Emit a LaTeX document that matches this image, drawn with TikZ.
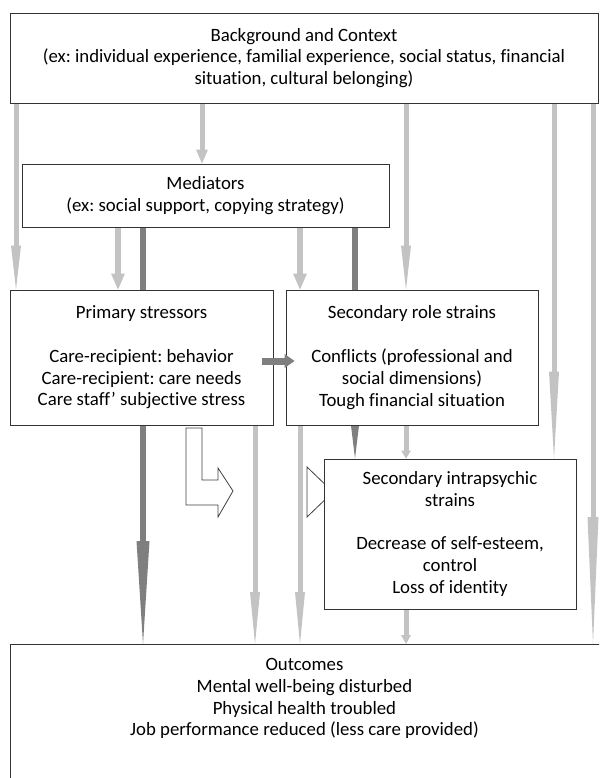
\documentclass[tikz,border=0pt]{standalone}
\usepackage{fontspec}
\setmainfont{Carlito}[Ligatures=NoCommon]
\usepackage{xcolor}
\usepackage{tikz}
\usetikzlibrary{arrows.meta,backgrounds}

\definecolor{lightarrow}{HTML}{C3C3C3}
\definecolor{darkarrow}{HTML}{7F7F7F}
\definecolor{boxline}{HTML}{333333}

\tikzset{
	txt/.style={font=\fontsize{18.8}{21.8}\selectfont},
	box/.style={txt, draw=boxline, line width=0.9pt, fill=white, align=center, inner sep=0pt},
	lightarr/.style 2 args={draw=lightarrow, line width=5pt, -{Triangle[length=#1, width=#2, line width=0pt]}},
	darkarr/.style 2 args={draw=darkarrow, line width=6pt, -{Triangle[length=#1, width=#2, line width=0pt]}},
	hollow/.style={draw=black!75, line width=0.8pt, fill=white, line join=miter}
}

\begin{document}
\frenchspacing
\begin{tikzpicture}[x=1pt,y=-1pt]
	\useasboundingbox (0,0) rectangle (599,778);
	\clip (0,0) rectangle (599,778);

	\node[box, minimum width=588pt, minimum height=90pt] (bg) at (304,58) {Background and Context\\(ex: individual experience, familial experience, social status, financial\\situation, cultural belonging)};
	\node[box, minimum width=367pt, minimum height=63pt] (med) at (205.5,195.5) {Mediators\\(ex: social support, copying strategy)};
	\node[box, minimum width=263pt, minimum height=135pt] (prim) at (141.5,357.5) {Primary stressors\\[21.8pt]Care-recipient: behavior\\Care-recipient: care needs\\Care staff' subjective stress};
	\node[box, minimum width=252pt, minimum height=135pt] (sec) at (412,357.5) {Secondary role strains\\[21.8pt]Conflicts (professional and\\social dimensions)\\Tough financial situation};
	\node[box, minimum width=252pt, minimum height=150pt] (intra) at (450,534) {Secondary intrapsychic\\strains\\[21.8pt]Decrease of self-esteem,\\control\\Loss of identity};
	\node[box, anchor=north west, minimum width=600pt, minimum height=150pt,
		label={[txt, anchor=north, align=center, inner sep=0pt, xshift=-6pt, yshift=-14pt]north:Outcomes\\Mental well-being disturbed\\Physical health troubled\\Job performance reduced (less care provided)}] (out) at (10,644) {};

	\begin{pgfonlayer}{background}
	\draw[lightarr={44pt}{10pt}] (16,0 |- bg.south) -- (16,0 |- prim.north);
	\draw[lightarr={14pt}{12pt}] (202,0 |- bg.south) -- (202,0 |- med.north);
	\draw[lightarr={44pt}{10pt}] (406,0 |- bg.south) -- (406,0 |- sec.north);
	\draw[lightarr={87pt}{10pt}] (554,0 |- bg.south) -- (554,0 |- intra.north);
	\draw[lightarr={127pt}{11pt}] (593,0 |- bg.south) -- (593,0 |- out.north);

	\draw[lightarr={16pt}{14pt}, line width=6.5pt] (118,0 |- med.south) -- (118,0 |- prim.north);
	\draw[lightarr={16pt}{14pt}, line width=6.5pt] (300,0 |- med.south) -- (300,0 |- sec.north);
	\draw[darkarr={103pt}{13pt}] (143,0 |- med.south) -- (143,0 |- out.north);
	\draw[darkarr={33pt}{8pt}] (355,0 |- med.south) -- (355,0 |- intra.north);

	\draw[lightarr={52pt}{10pt}] (255,0 |- prim.south) -- (255,0 |- out.north);
	\draw[lightarr={52pt}{10pt}] (300,0 |- sec.south) -- (300,0 |- out.north);
	\draw[lightarr={8pt}{10pt}] (406,0 |- sec.south) -- (406,0 |- intra.north);
	\draw[lightarr={9pt}{10pt}] (406,0 |- intra.south) -- (406,0 |- out.north);

	\draw[hollow] (307,467) -- (333,492) -- (307,517) -- cycle;
	\end{pgfonlayer}

	\draw[darkarr={10pt}{14pt}, line width=7pt] ([xshift=-11pt,yshift=-3.5pt]prim.east) -- ([xshift=9pt,yshift=-3.5pt]sec.west);
	\draw[hollow] (186,428) -- (202,428) -- (202,480) -- (218,480) -- (218,468) -- (233,491) -- (218,517) -- (218,505) -- (186,505) -- cycle;
\end{tikzpicture}
\end{document}
